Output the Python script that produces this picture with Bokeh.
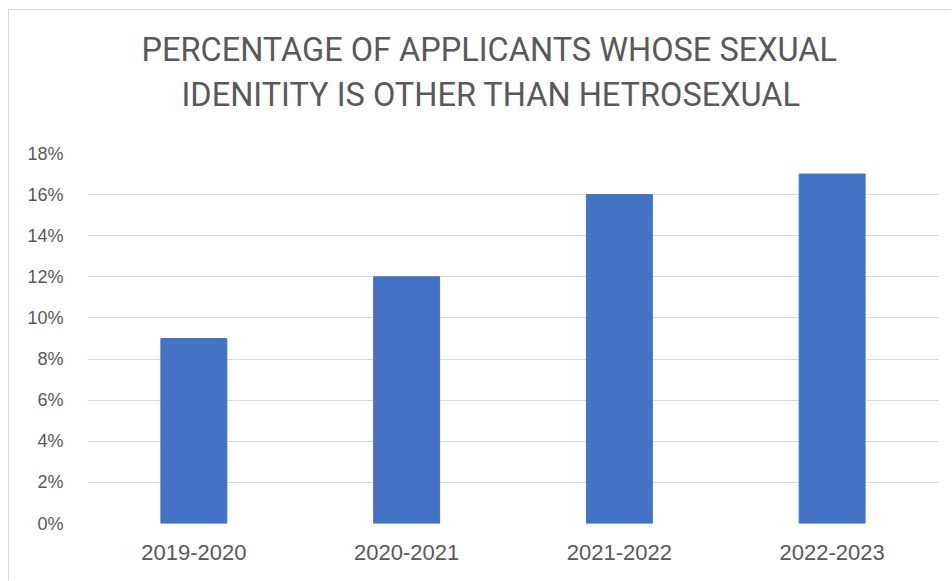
from bokeh.plotting import figure
from bokeh.models import Range1d, FactorRange, FixedTicker, NumeralTickFormatter, Title
from bokeh.embed import file_html
from bokeh.resources import INLINE

years = ["2019-2020", "2020-2021", "2021-2022", "2022-2023"]
share = [0.09, 0.12, 0.16, 0.17]
y_ticks = [0.0, 0.02, 0.04, 0.06, 0.08, 0.10, 0.12, 0.14, 0.16, 0.18]
title_lines = ["PERCENTAGE OF APPLICANTS WHOSE SEXUAL",
               "IDENITITY IS OTHER THAN HETROSEXUAL"]

p = figure(width=943, height=571, x_range=FactorRange(*years, range_padding=0),
           y_range=Range1d(0, 0.18), output_backend="svg", toolbar_location=None,
           title=None,
           min_border_left=78, min_border_right=14, min_border_top=143, min_border_bottom=58,
           margin=(9, 0, 0, 8))
p.styles = {"border-left": "1px solid #d9d9d9", "border-top": "1px solid #d9d9d9"}
p.outline_line_color = None

p.vbar(x=years, top=share, width=0.31, color="#4472C4", line_color="#4472C4")

p.yaxis.ticker = FixedTicker(ticks=y_ticks)
p.yaxis.formatter = NumeralTickFormatter(format="0%")
for ax in (p.xaxis, p.yaxis):
    ax.axis_line_color = None
    ax.major_tick_line_color = None
    ax.minor_tick_line_color = None
    ax.major_label_text_color = "#595959"
    ax.major_label_text_font = "Liberation Sans"
p.yaxis.major_label_text_font_size = "18px"
p.xaxis.major_label_text_font_size = "22px"
p.yaxis.major_label_standoff = 18
p.xaxis.major_label_standoff = 15

p.xgrid.grid_line_color = None
p.ygrid.grid_line_color = "#d9d9d9"
p.ygrid.grid_line_width = 1

# spacer between frame and title block
p.add_layout(Title(text=" ", text_font_size="1px", standoff=34), "above")
# title lines: added nearest-to-frame first
for txt, off in zip(reversed(title_lines), [94, 54]):
    p.add_layout(Title(text=txt, align="left", offset=off,
                       text_font="Roboto", text_font_size="32.5px",
                       text_font_style="normal", text_color="#595959",
                       text_line_height=1.0, standoff=5), "above")

open("out.html", "w").write(file_html(p, INLINE))
